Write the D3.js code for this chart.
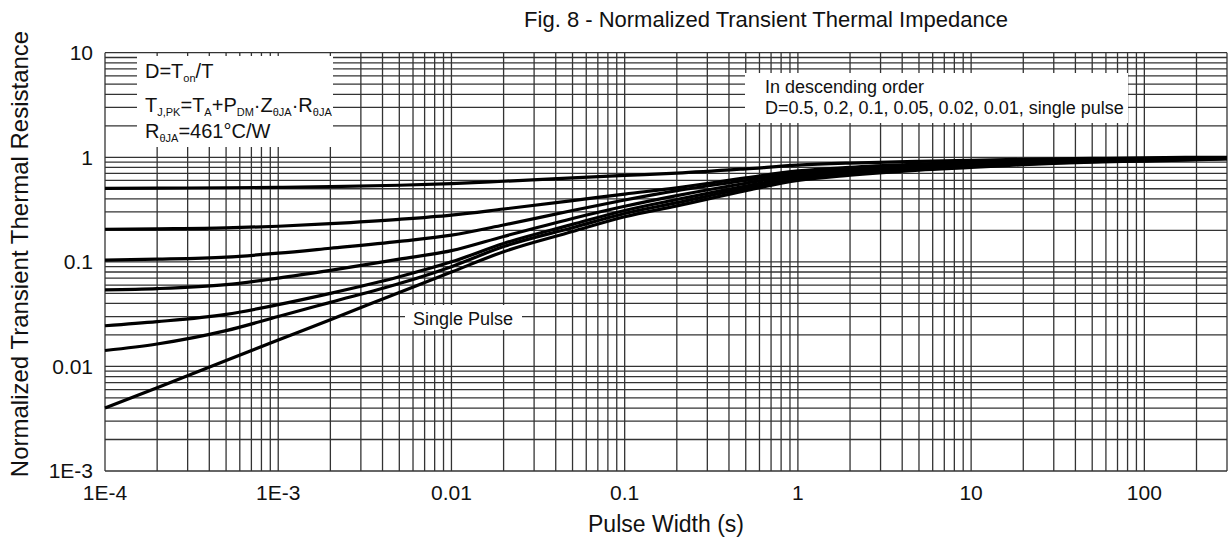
<!DOCTYPE html>
<html lang="en">
<head>
    <meta charset="UTF-8">
    <title>Normalized Transient Thermal Impedance</title>
    <style>
        body, html {
            margin: 0;
            padding: 0;
            background-color: #fff;
            font-family: "Liberation Sans", Arial, sans-serif;
        }
        svg { display: block; }
    </style>
</head>
<body>
    <svg id="svg" width="1228" height="542"></svg>
    <script src="https://d3js.org/d3.v7.min.js"></script>
    <script>
        // pulse width (s)
        const pulseWidth = [1e-4, 2e-4, 5e-4, 1e-3, 2e-3, 5e-3, 0.01, 0.02, 0.05, 0.1, 0.2, 0.5, 1, 2, 5, 10, 20, 50, 100, 300]

        // normalized Zth for each duty cycle
        const d05 = [0.505, 0.507, 0.511, 0.516, 0.523, 0.54, 0.56, 0.59, 0.635, 0.67, 0.705, 0.775, 0.84, 0.88, 0.915, 0.935, 0.955, 0.975, 0.99, 1.0]
        const d02 = [0.205, 0.207, 0.211, 0.219, 0.232, 0.255, 0.28, 0.32, 0.385, 0.445, 0.51, 0.635, 0.74, 0.8, 0.86, 0.9, 0.93, 0.955, 0.97, 0.99]
        const d01 = [0.104, 0.106, 0.111, 0.121, 0.135, 0.157, 0.18, 0.225, 0.31, 0.39, 0.48, 0.6, 0.71, 0.77, 0.835, 0.875, 0.91, 0.94, 0.96, 0.985]
        const d005 = [0.054, 0.0555, 0.0605, 0.07, 0.083, 0.106, 0.128, 0.175, 0.26, 0.34, 0.43, 0.565, 0.68, 0.745, 0.815, 0.855, 0.895, 0.93, 0.95, 0.98]
        const d002 = [0.0245, 0.0268, 0.0315, 0.039, 0.05, 0.072, 0.1, 0.15, 0.228, 0.31, 0.395, 0.53, 0.65, 0.72, 0.795, 0.84, 0.88, 0.92, 0.94, 0.975]
        const d001 = [0.0142, 0.0164, 0.022, 0.03, 0.041, 0.062, 0.09, 0.14, 0.212, 0.29, 0.368, 0.505, 0.625, 0.7, 0.775, 0.82, 0.865, 0.91, 0.93, 0.97]
        const single = [0.004, 0.00625, 0.0114, 0.0179, 0.028, 0.051, 0.08, 0.125, 0.195, 0.27, 0.343, 0.48, 0.6, 0.675, 0.755, 0.8, 0.85, 0.9, 0.92, 0.965]
        const series = [d05, d02, d01, d005, d002, d001, single]

        // tick labels
        const xTicks = [1e-4, 1e-3, 0.01, 0.1, 1, 10, 100]
        const xTickLabels = ["1E-4", "1E-3", "0.01", "0.1", "1", "10", "100"]
        const yTicks = [1e-3, 0.01, 0.1, 1, 10]
        const yTickLabels = ["1E-3", "0.01", "0.1", "1", "10"]

        const plotLeft = 105, plotRight = 1227, plotTop = 52.7, plotBottom = 471

        const xscale = d3.scaleLog().domain([1e-4, 300]).range([plotLeft, plotRight])
        const yscale = d3.scaleLog().domain([1e-3, 10]).range([plotBottom, plotTop])

        const svg = d3.select('#svg')

        // minor + major grid values
        const xGrid = []
        for (let e = -4; e <= 2; e++) for (let m = 1; m <= 9; m++) {
            const v = m * Math.pow(10, e)
            if (v <= 300) xGrid.push(v)
        }
        const yGrid = []
        for (let e = -3; e <= 0; e++) for (let m = 1; m <= 9; m++) yGrid.push(m * Math.pow(10, e))
        yGrid.push(10)

        const grid = svg.append('g').attr('stroke', '#333').attr('stroke-width', 1.3)
        grid.selectAll('line.v').data(xGrid).enter().append('line')
            .attr('x1', d => xscale(d)).attr('x2', d => xscale(d))
            .attr('y1', plotTop).attr('y2', plotBottom)
        grid.selectAll('line.h').data(yGrid).enter().append('line')
            .attr('y1', d => yscale(d)).attr('y2', d => yscale(d))
            .attr('x1', plotLeft).attr('x2', plotRight)

        // tick labels
        svg.append('g').selectAll('text').data(yTicks).enter().append('text')
            .attr('x', 93).attr('y', d => yscale(d)).attr('dy', '0.35em')
            .attr('text-anchor', 'end').attr('font-size', 21).attr('fill', '#111')
            .text((d, i) => yTickLabels[i])
        svg.append('g').selectAll('text').data(xTicks).enter().append('text')
            .attr('x', d => xscale(d)).attr('y', 500)
            .attr('text-anchor', 'middle').attr('font-size', 21).attr('fill', '#111')
            .text((d, i) => xTickLabels[i])

        // white boxes behind the notes
        svg.append('rect').attr('x', 137).attr('y', 56).attr('width', 196).attr('height', 91).attr('fill', '#fff')
        svg.append('rect').attr('x', 745).attr('y', 73).attr('width', 383).attr('height', 50).attr('fill', '#fff')
        svg.append('rect').attr('x', 405).attr('y', 305).attr('width', 117).attr('height', 25).attr('fill', '#fff')

        // curves
        const line = d3.line()
            .x((d, i) => xscale(pulseWidth[i]))
            .y(d => yscale(d))
            .curve(d3.curveMonotoneX)
        svg.append('g').selectAll('path').data(series).enter().append('path')
            .attr('d', d => line(d))
            .attr('fill', 'none').attr('stroke', '#000').attr('stroke-width', 3.2)

        // notes
        const sub = 11
        const note = svg.append('g').attr('font-size', 20).attr('fill', '#111')
        const t1 = note.append('text').attr('x', 145).attr('y', 78)
        t1.append('tspan').text('D=T')
        t1.append('tspan').attr('font-size', sub).attr('dy', 4).text('on')
        t1.append('tspan').attr('dy', -4).text('/T')

        const t2 = note.append('text').attr('x', 145).attr('y', 112)
        t2.append('tspan').text('T')
        t2.append('tspan').attr('font-size', sub).attr('dy', 4).text('J,PK')
        t2.append('tspan').attr('dy', -4).text('=T')
        t2.append('tspan').attr('font-size', sub).attr('dy', 4).text('A')
        t2.append('tspan').attr('dy', -4).text('+P')
        t2.append('tspan').attr('font-size', sub).attr('dy', 4).text('DM')
        t2.append('tspan').attr('dy', -4).text('·Z')
        t2.append('tspan').attr('font-size', sub).attr('dy', 4).text('θJA')
        t2.append('tspan').attr('dy', -4).text('·R')
        t2.append('tspan').attr('font-size', sub).attr('dy', 4).text('θJA')

        const t3 = note.append('text').attr('x', 145).attr('y', 138)
        t3.append('tspan').text('R')
        t3.append('tspan').attr('font-size', sub).attr('dy', 4).text('θJA')
        t3.append('tspan').attr('dy', -4).text('=461°C/W')

        note.append('text').attr('x', 765).attr('y', 93).attr('font-size', 18).text('In descending order')
        note.append('text').attr('x', 765).attr('y', 114).attr('font-size', 18).text('D=0.5, 0.2, 0.1, 0.05, 0.02, 0.01, single pulse')
        note.append('text').attr('x', 413).attr('y', 325).attr('font-size', 18).text('Single Pulse')

        // titles
        svg.append('text').attr('x', 766).attr('y', 27).attr('text-anchor', 'middle')
            .attr('font-size', 22).attr('fill', '#111').text('Fig. 8 - Normalized Transient Thermal Impedance')
        svg.append('text').attr('x', 666).attr('y', 532).attr('text-anchor', 'middle')
            .attr('font-size', 23).attr('fill', '#111').text('Pulse Width (s)')
        svg.append('text').attr('transform', 'translate(28, 254) rotate(-90)').attr('text-anchor', 'middle')
            .attr('font-size', 24).attr('fill', '#111').text('Normalized Transient Thermal Resistance')
    </script>
</body>
</html>
